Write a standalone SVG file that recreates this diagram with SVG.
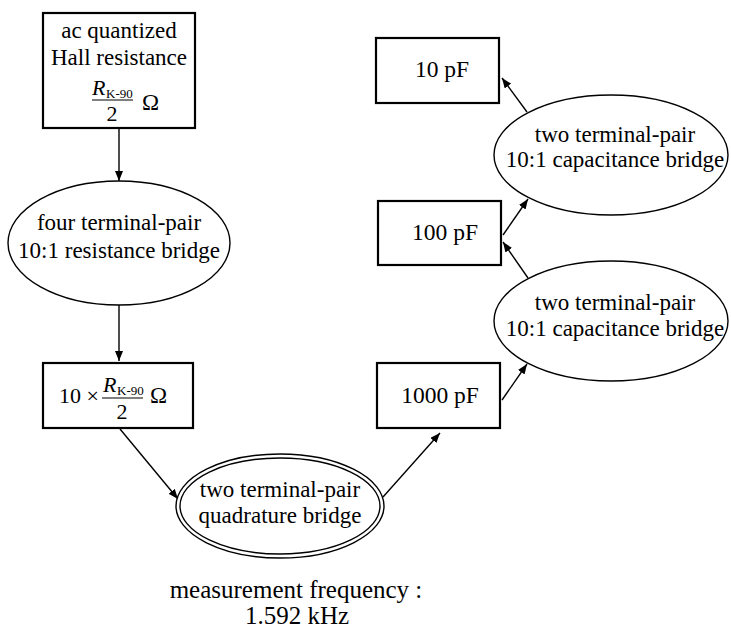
<svg xmlns="http://www.w3.org/2000/svg" width="731" height="631" viewBox="0 0 731 631">
<style>
.box{fill:#fff;stroke:#000;stroke-width:2.2}
.ell{fill:#fff;stroke:#000;stroke-width:1.4}
.ln{stroke:#000;stroke-width:1.4;fill:none;marker-end:url(#ah)}
</style>
<defs>
<marker id="ah" viewBox="0 0 10 8" refX="10" refY="4" markerWidth="10" markerHeight="8" markerUnits="userSpaceOnUse" orient="auto">
<path d="M0,0 L10,4 L0,8 Z" fill="#000"/>
</marker>
</defs>
<rect width="731" height="631" fill="#fff"/>
<g id="connectors">
<line class="ln" x1="119" y1="129" x2="119" y2="181"/>
<line class="ln" x1="119" y1="305" x2="119" y2="361"/>
<line class="ln" x1="120" y1="429" x2="178" y2="499"/>
<line class="ln" x1="383" y1="497" x2="440" y2="433"/>
<line class="ln" x1="502" y1="400" x2="527" y2="364"/>
<line class="ln" x1="528" y1="278" x2="503" y2="242"/>
<line class="ln" x1="503" y1="235" x2="528" y2="199"/>
<line class="ln" x1="527" y1="112" x2="502" y2="78"/>
</g>
<g id="hall">
<rect class="box" x="43" y="13" width="152" height="115"/>
<text x="119" y="38" text-anchor="middle" style="font-family:'Liberation Serif',serif;font-size:23px">ac quantized</text>
<text x="119" y="65" text-anchor="middle" style="font-family:'Liberation Serif',serif;font-size:23px">Hall resistance</text>
<text x="92" y="95" style="font-family:'Liberation Serif',serif;font-size:22px;font-style:italic">R</text>
<text x="106" y="98" style="font-family:'Liberation Serif',serif;font-size:13px">K-90</text>
<line x1="92" y1="100" x2="133" y2="100" stroke="#000" stroke-width="1.2"/>
<text x="112" y="121" text-anchor="middle" style="font-family:'Liberation Serif',serif;font-size:22px">2</text>
<text x="142" y="110" style="font-family:'Liberation Serif',serif;font-size:23px">Ω</text>
</g>
<g id="resbridge">
<ellipse class="ell" cx="119" cy="243" rx="111" ry="62"/>
<text x="119" y="230" text-anchor="middle" style="font-family:'Liberation Serif',serif;font-size:23px">four terminal-pair</text>
<text x="119" y="258" text-anchor="middle" style="font-family:'Liberation Serif',serif;font-size:23px">10:1 resistance bridge</text>
</g>
<g id="tenR">
<rect class="box" x="43" y="363" width="150" height="65"/>
<text x="99" y="403" text-anchor="end" style="font-family:'Liberation Serif',serif;font-size:22px">10 ×</text>
<text x="103" y="392" style="font-family:'Liberation Serif',serif;font-size:22px;font-style:italic">R</text>
<text x="117" y="395" style="font-family:'Liberation Serif',serif;font-size:13px">K-90</text>
<line x1="102" y1="398" x2="143" y2="398" stroke="#000" stroke-width="1.2"/>
<text x="122" y="419" text-anchor="middle" style="font-family:'Liberation Serif',serif;font-size:22px">2</text>
<text x="150" y="403" style="font-family:'Liberation Serif',serif;font-size:23px">Ω</text>
</g>
<g id="quad">
<ellipse cx="280" cy="506" rx="104" ry="52" fill="#fff" stroke="#000" stroke-width="1.4"/>
<ellipse cx="280" cy="506" rx="100" ry="48" fill="none" stroke="#000" stroke-width="1.4"/>
<text x="280" y="497" text-anchor="middle" style="font-family:'Liberation Serif',serif;font-size:23px">two terminal-pair</text>
<text x="280" y="523" text-anchor="middle" style="font-family:'Liberation Serif',serif;font-size:23px">quadrature bridge</text>
</g>
<g id="c1000">
<rect class="box" x="377" y="363" width="123" height="65"/>
<text x="440" y="403" text-anchor="middle" style="font-family:'Liberation Serif',serif;font-size:23.5px">1000 pF</text>
</g>
<g id="capbridge1">
<ellipse class="ell" cx="611" cy="321" rx="117" ry="60"/>
<text x="615" y="310" text-anchor="middle" style="font-family:'Liberation Serif',serif;font-size:23px">two terminal-pair</text>
<text x="615" y="336" text-anchor="middle" style="font-family:'Liberation Serif',serif;font-size:23px">10:1 capacitance bridge</text>
</g>
<g id="c100">
<rect class="box" x="378" y="201" width="123" height="64"/>
<text x="445" y="240" text-anchor="middle" style="font-family:'Liberation Serif',serif;font-size:23.5px">100 pF</text>
</g>
<g id="capbridge2">
<ellipse class="ell" cx="611" cy="155" rx="117" ry="60"/>
<text x="615" y="142" text-anchor="middle" style="font-family:'Liberation Serif',serif;font-size:23px">two terminal-pair</text>
<text x="615" y="167" text-anchor="middle" style="font-family:'Liberation Serif',serif;font-size:23px">10:1 capacitance bridge</text>
</g>
<g id="c10">
<rect class="box" x="376" y="38" width="123" height="65"/>
<text x="442" y="77" text-anchor="middle" style="font-family:'Liberation Serif',serif;font-size:23.5px">10 pF</text>
</g>
<g id="freq">
<text x="296" y="598" text-anchor="middle" style="font-family:'Liberation Serif',serif;font-size:25px">measurement frequency :</text>
<text x="297" y="624" text-anchor="middle" style="font-family:'Liberation Serif',serif;font-size:25px">1.592 kHz</text>
</g>
</svg>
